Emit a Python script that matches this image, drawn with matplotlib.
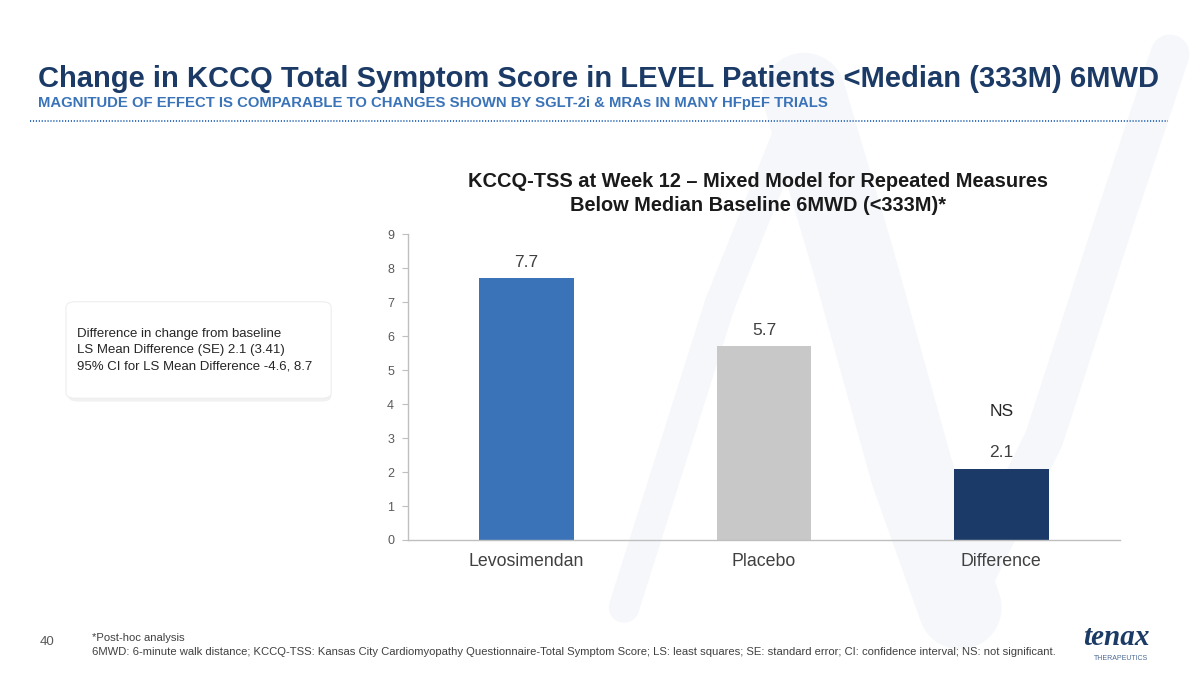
import matplotlib.pyplot as plt
from matplotlib.patches import FancyBboxPatch
from matplotlib.lines import Line2D

categories = ["Levosimendan", "Placebo", "Difference"]
values = [7.7, 5.7, 2.1]
value_labels = ["7.7", "5.7", "2.1"]
bar_colors = ["#3a73b8", "#c8c8c8", "#1c3a68"]
y_ticks = [0, 1, 2, 3, 4, 5, 6, 7, 8, 9]

title = "Change in KCCQ Total Symptom Score in LEVEL Patients <Median (333M) 6MWD"
subtitle = "MAGNITUDE OF EFFECT IS COMPARABLE TO CHANGES SHOWN BY SGLT-2i & MRAs IN MANY HFpEF TRIALS"
chart_title = "KCCQ-TSS at Week 12 \u2013 Mixed Model for Repeated Measures\nBelow Median Baseline 6MWD (<333M)*"
box_lines = ["Difference in change from baseline",
             "LS Mean Difference (SE) 2.1 (3.41)",
             "95% CI for LS Mean Difference -4.6, 8.7"]
foot1 = "*Post-hoc analysis"
foot2 = ("6MWD: 6-minute walk distance; KCCQ-TSS: Kansas City Cardiomyopathy Questionnaire-Total Symptom Score; "
         "LS: least squares; SE: standard error; CI: confidence interval; NS: not significant.")

plt.rcParams['font.family'] = ['Liberation Sans', 'DejaVu Sans']

fig = plt.figure(figsize=(12, 6.75), dpi=100)
fig.patch.set_facecolor("white")

# faint watermark strokes in the background (script "N")
wm1 = Line2D([0.52, 0.60, 0.67],
             [0.10, 0.55, 0.86],
             transform=fig.transFigure, color="#f5f7fa", lw=22,
             solid_capstyle="round", solid_joinstyle="round", zorder=0)
wm2 = Line2D([0.67, 0.71, 0.76, 0.80],
             [0.86, 0.62, 0.30, 0.10],
             transform=fig.transFigure, color="#f5f7fa", lw=60,
             solid_capstyle="round", solid_joinstyle="round", zorder=0)
wm3 = Line2D([0.80, 0.87, 0.93, 0.975],
             [0.10, 0.35, 0.68, 0.92],
             transform=fig.transFigure, color="#f5f7fa", lw=28,
             solid_capstyle="round", solid_joinstyle="round", zorder=0)
for w in (wm1, wm2, wm3):
    fig.add_artist(w)

# header
fig.text(0.032, 0.871, title, fontsize=21, fontweight="bold", color="#1b3a66",
         ha="left", va="baseline")
fig.text(0.032, 0.841, subtitle, fontsize=10.75, fontweight="bold", color="#3a73b8",
         ha="left", va="baseline")
fig.add_artist(Line2D([0.025, 0.973], [0.821, 0.821], transform=fig.transFigure,
                      color="#3a73b8", lw=1.4, ls=(0, (0.6, 0.9))))

# chart
ax = fig.add_axes([0.34, 0.2, 0.5933, 0.4533])
ax.set_facecolor("none")
x = list(range(len(categories)))
ax.bar(x, values, width=0.4, color=bar_colors, zorder=2)
for xi, v, lab in zip(x, values, value_labels):
    ax.text(xi, v + 0.25, lab, ha="center", va="bottom", fontsize=12.5, color="#404040")
ax.text(2, 3.55, "NS", ha="center", va="bottom", fontsize=12.5, color="#262626")

ax.set_xlim(-0.5, 2.5)
ax.set_ylim(0, 9)
ax.set_yticks(y_ticks)
ax.set_xticks(x)
ax.set_xticklabels(categories, fontsize=12.8, color="#404040")
ax.tick_params(axis="y", labelsize=9, colors="#595959", length=4, color="#bfbfbf", pad=6)
ax.tick_params(axis="x", length=0, pad=9)
for s in ["top", "right"]:
    ax.spines[s].set_visible(False)
for s in ["left", "bottom"]:
    ax.spines[s].set_color("#bfbfbf")
    ax.spines[s].set_linewidth(1)

fig.text(0.632, 0.682, chart_title, fontsize=14.4, fontweight="bold", color="#1a1a1a",
         ha="center", va="bottom", linespacing=1.3)

# info box with soft shadow
shadow = FancyBboxPatch((0.057, 0.405), 0.219, 0.141, boxstyle="round,pad=0,rounding_size=0.008",
                        transform=fig.transFigure, facecolor="#e8e8e8", edgecolor="none",
                        alpha=0.6, zorder=1)
fig.add_artist(shadow)
box = FancyBboxPatch((0.055, 0.41), 0.221, 0.143, boxstyle="round,pad=0,rounding_size=0.008",
                     transform=fig.transFigure, facecolor="white", edgecolor="#eeeeee",
                     lw=0.8, zorder=2)
fig.add_artist(box)
for i, line in enumerate(box_lines):
    fig.text(0.064, 0.505 - i * 0.0237, line, fontsize=9.5, color="#262626",
             ha="left", va="center", zorder=3)

# footer
fig.text(0.033, 0.044, "40", fontsize=9.5, color="#595959", ha="left", va="baseline")
fig.text(0.077, 0.051, foot1, fontsize=8.1, color="#404040", ha="left", va="baseline")
fig.text(0.077, 0.029, foot2, fontsize=8.1, color="#404040", ha="left", va="baseline")

# logo
fig.text(0.958, 0.045, "tenax", fontsize=21, fontweight="bold", style="italic",
         family=["Liberation Serif", "DejaVu Serif"], color="#1b3a66", ha="right", va="baseline")
fig.text(0.957, 0.022, "THERAPEUTICS", fontsize=5, color="#4a6a95", ha="right", va="baseline")

fig.savefig("out.png", dpi=100)
